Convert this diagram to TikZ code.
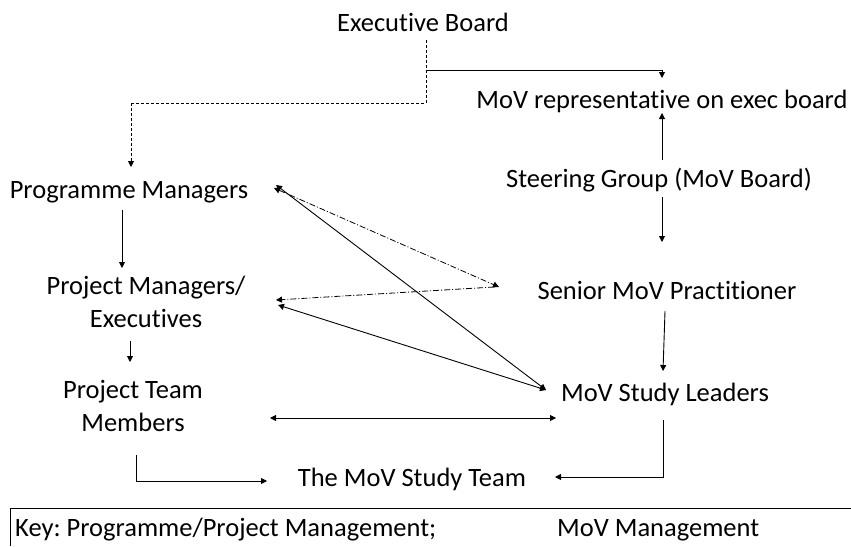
\documentclass[tikz,border=0pt]{standalone}
\usepackage{fontspec}
\setmainfont{Carlito}[Ligatures=CommonOff]
\usetikzlibrary{arrows.meta}
\frenchspacing
\begin{document}
\begin{tikzpicture}[x=1pt,y=-1pt,
  lbl/.style={inner sep=0pt,font=\fontsize{26.5}{33}\selectfont,align=center},
  conn/.style={line width=0.9pt,-{Triangle[length=6pt,width=6pt]}},
  dconn/.style={line width=0.9pt,{Triangle[length=6pt,width=6pt]}-{Triangle[length=6pt,width=6pt]}},
  dashconn/.style={line width=0.9pt,dash pattern=on 3pt off 2pt},
  ddconn/.style={line width=0.8pt,dash pattern=on 6pt off 2pt on 1pt off 2pt}]
\useasboundingbox (0,0) rectangle (851,546);
\fill[white] (0,0) rectangle (851,546);
% nodes
\node[lbl] (exec) at (423,22) {Executive Board};
\node[lbl] (rep) at (662,101) {MoV representative on exec board};
\node[lbl] (steer) at (659,180) {Steering Group (MoV Board)};
\node[lbl] (prog) at (129,192) {Programme Managers};
\node[lbl] (projm) at (146,302) {Project Managers/\\Executives};
\node[lbl] (senior) at (667,290) {Senior MoV Practitioner};
\node[lbl] (team) at (133,406) {Project Team\\Members};
\node[lbl] (leaders) at (665,394) {MoV Study Leaders};
\node[lbl] (study) at (412,479) {The MoV Study Team};
\node[lbl,anchor=west] (key1) at (15,530) {Key: Programme/Project Management;};
\node[lbl,anchor=west] (key2) at (557,530) {MoV Management};
% coordinates
\coordinate (ea) at (426,40);
\coordinate (eb) at (426,70);
\coordinate (ec) at (426,103);
\coordinate (ed) at (131,103);
\coordinate (pt) at (131,167);
\coordinate (rt) at (662,70);
\coordinate (rtt) at (662,78);
% exec board connectors
\draw[dashconn] (ea) -- (ec) -- (ed);
\draw[dashconn,-{Triangle[length=6pt,width=6pt]}] (ed) -- (pt);
\draw[conn] (eb) -- (rt) -- (rtt);
% MoV chain
\draw[conn] (662,160) -- (662,113);
\draw[conn] (662,197) -- (662,242);
\draw[conn] (665,311) -- (663,371);
% programme chain
\draw[conn] (122,210) -- (122,268);
\draw[conn] (130,341) -- (130,362);
% elbows to study team
\draw[conn] (136,455) -- (136,481) -- (267,481);
\draw[conn] (663,420) -- (663,477) -- (555,477);
% double arrow
\draw[dconn] (270,418) -- (556,418);
% dash-dot
\draw[ddconn,{Triangle[length=6pt,width=6pt]}-{Triangle[length=6pt,width=6pt]}] (274,188) -- (499,287);
\draw[ddconn,-{Triangle[length=6pt,width=6pt]}] (494,287) -- (276,300);
% solid diagonals
\draw[dconn] (276,185) -- (546,390);
\draw[dconn] (278,305) -- (546,390);
% key box
\draw[line width=0.9pt] (851,508) -- (10,508) -- (10,546);
\end{tikzpicture}
\end{document}
